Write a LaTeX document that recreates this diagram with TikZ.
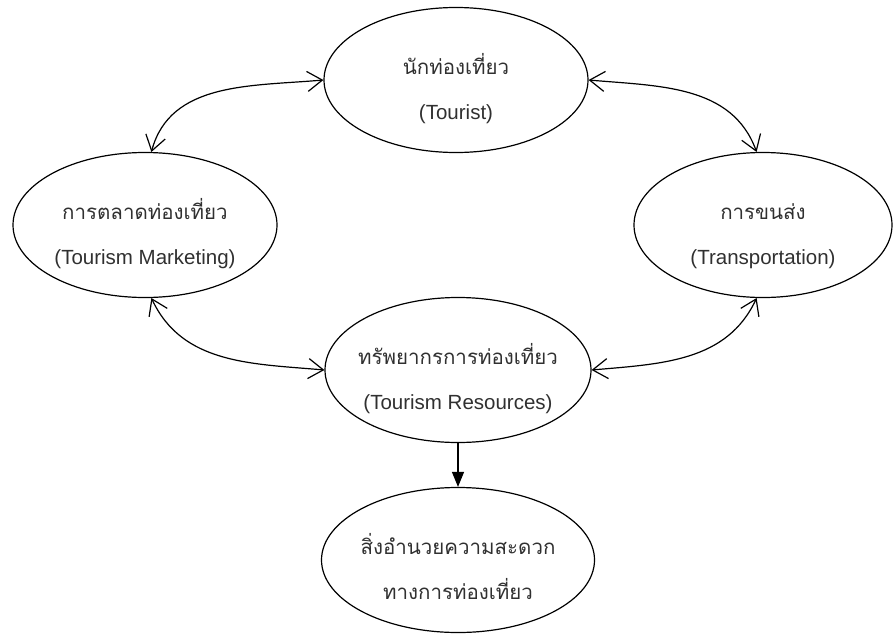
\documentclass[tikz,border=0pt]{standalone}
\usepackage{fontspec}
\setmainfont{Liberation Sans}
\newfontfamily\thaifont[Script=Thai]{Loma}
\usepackage{tikz}
\usepackage{xcolor}
\usetikzlibrary{shapes.geometric,arrows.meta}
\definecolor{text-gray}{HTML}{303030}
\tikzset{
    oval-box/.style = {draw=black, ellipse, line width=1.2pt, inner ysep=0pt, inner xsep=-25pt, minimum width=264pt, minimum height=145pt, align=center, text=text-gray, text height=83pt, text depth=5pt, font=\fontsize{20.5}{45}\selectfont},
    link-arrow/.style = {line width=1.2pt, {Straight Barb[length=15pt,width=20pt]}-{Straight Barb[length=15pt,width=20pt]}},
    down-arrow/.style = {line width=1.2pt, -{Triangle[length=15pt,width=12pt]}},
}

\begin{document}
\begin{tikzpicture}[x=1pt,y=-1pt]
\useasboundingbox (0,0) rectangle (894,635);
\node [oval-box] (tourist) at (456,80) {{\thaifont นักท่องเที่ยว}\\(Tourist)};
\node [oval-box] (marketing) at (145,225) {{\thaifont การตลาดท่องเที่ยว}\\(Tourism Marketing)};
\node [oval-box, minimum width=258pt] (transport) at (763,225) {{\thaifont การขนส่ง}\\(Transportation)};
\node [oval-box, minimum width=266pt] (resources) at (458,370) {{\thaifont ทรัพยากรการท่องเที่ยว}\\(Tourism Resources)};
\node [oval-box, minimum width=273pt] (facility) at (458,560) {\thaifont สิ่งอำนวยความสะดวก\\\thaifont ทางการท่องเที่ยว};
\draw [link-arrow] (tourist.west) to[out=185, in=75] (marketing.85);
\draw [link-arrow] (tourist.east) to[out=-5, in=110] (transport.95);
\draw [link-arrow] (marketing.-85) to[out=-65, in=175] (resources.west);
\draw [link-arrow] (transport.-95) to[out=-115, in=5] (resources.east);
\draw [down-arrow] (resources.south) -- (facility.north);
\end{tikzpicture}
\end{document}
